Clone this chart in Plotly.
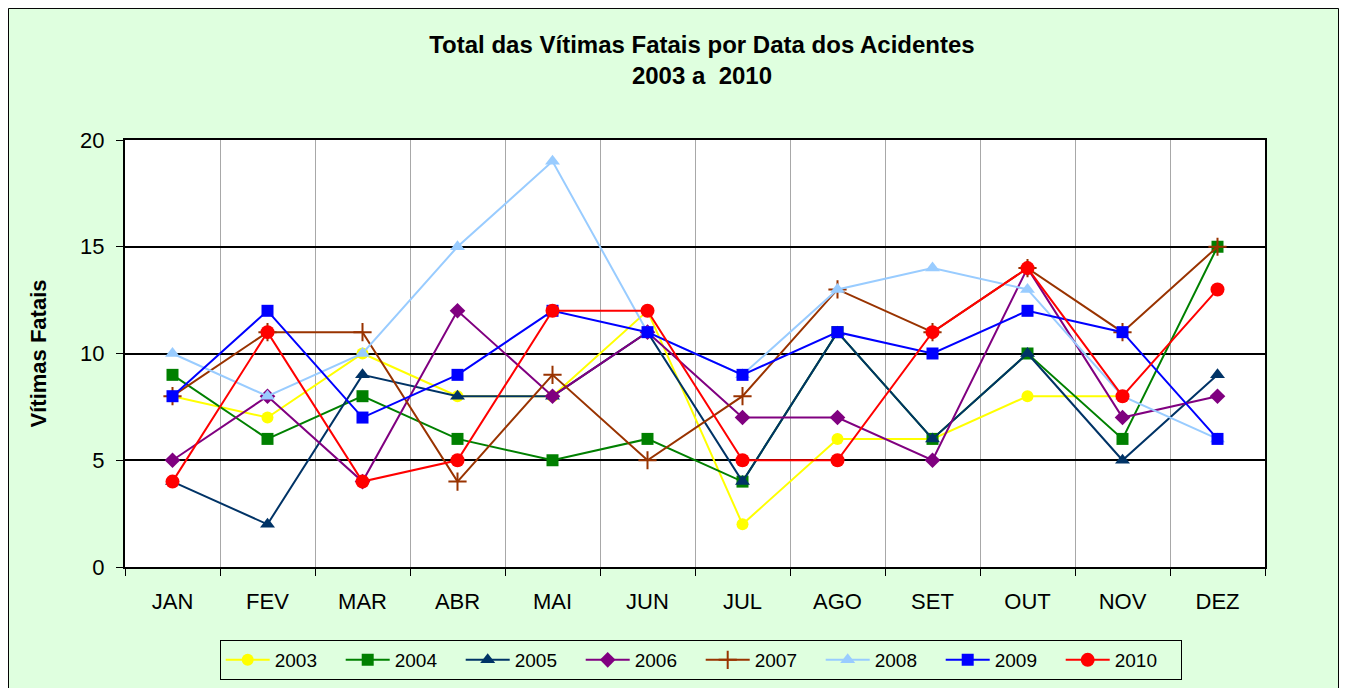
import plotly.graph_objects as go

meses = ["JAN", "FEV", "MAR", "ABR", "MAI", "JUN", "JUL", "AGO", "SET", "OUT", "NOV", "DEZ"]

v2003 = [8, 7, 10, 8, 8, 12, 2, 6, 6, 8, 8, None]
v2004 = [9, 6, 8, 6, 5, 6, 4, 11, 6, 10, 6, 15]
v2005 = [4, 2, 9, 8, 8, 11, 4, 11, 6, 10, 5, 9]
v2006 = [5, 8, 4, 12, 8, 11, 7, 7, 5, 14, 7, 8]
v2007 = [8, 11, 11, 4, 9, 5, 8, 13, 11, 14, 11, 15]
v2008 = [10, 8, 10, 15, 19, 11, 9, 13, 14, 13, 8, 6]
v2009 = [8, 12, 7, 9, 12, 11, 9, 11, 10, 12, 11, 6]
v2010 = [4, 11, 4, 5, 12, 12, 5, 5, 11, 14, 8, 13]

series = [
    ("2003", v2003, "#FFFF00", "circle", 12),
    ("2004", v2004, "#008000", "square", 12),
    ("2005", v2005, "#003366", "triangle-up", 13),
    ("2006", v2006, "#800080", "diamond", 12),
    ("2007", v2007, "#993300", "cross-thin", 13),
    ("2008", v2008, "#99CCFF", "triangle-up", 13),
    ("2009", v2009, "#0000FF", "square", 12),
    ("2010", v2010, "#FF0000", "circle", 14),
]

bg = "#DFFFDF"

fig = go.Figure()
for nome, vals, cor, simb, tam in series:
    marker = dict(symbol=simb, size=tam, color=cor)
    if simb == "cross-thin":
        marker["line"] = dict(color=cor, width=2)
    fig.add_trace(go.Scatter(
        x=meses, y=vals, name=nome, mode="lines+markers",
        line=dict(color=cor, width=2), marker=marker,
    ))

# page body has an 8px margin, so the figure is a bit smaller than the window
fig.update_layout(
    width=1331, height=680,
    paper_bgcolor=bg, plot_bgcolor="white",
    font=dict(family="Arial, Liberation Sans, sans-serif", color="black"),
    margin=dict(l=117, r=74, t=132, b=121),
    title=dict(
        text="<b>Total das Vítimas Fatais por Data dos Acidentes<br>2003 a  2010</b>",
        x=0.5214, xanchor="center", y=1 - 45 / 680, yanchor="top",
        font=dict(size=24),
    ),
    legend=dict(
        orientation="h", x=0.505, xanchor="center",
        yref="container", y=8 / 680, yanchor="bottom",
        bgcolor=bg, bordercolor="black", borderwidth=1,
        font=dict(size=19), itemwidth=44, entrywidth=61,
    ),
    showlegend=True,
)

fig.update_xaxes(
    type="category", tickson="boundaries", ticks="outside", ticklen=7,
    tickcolor="black", showgrid=True, gridcolor="#A8A8A8", gridwidth=1,
    showline=True, linecolor="black", linewidth=2, mirror=True,
    tickfont=dict(size=22), ticklabelstandoff=14, range=[-0.5, 11.5],
)
fig.update_yaxes(
    range=[0, 20], dtick=5, ticks="outside", ticklen=7, tickcolor="black",
    showgrid=True, gridcolor="black", gridwidth=2,
    showline=True, linecolor="black", linewidth=2, mirror=True,
    zeroline=False, tickfont=dict(size=22), ticklabelstandoff=7,
    title=dict(text="<b>Vítimas Fatais</b>", font=dict(size=22), standoff=27),
)

fig.add_shape(
    type="rect", xref="paper", yref="paper",
    x0=-0.1022, x1=1.0645, y0=-0.31, y1=1.308,
    line=dict(color="black", width=1), layer="below",
)

fig.write_html("out.html")
